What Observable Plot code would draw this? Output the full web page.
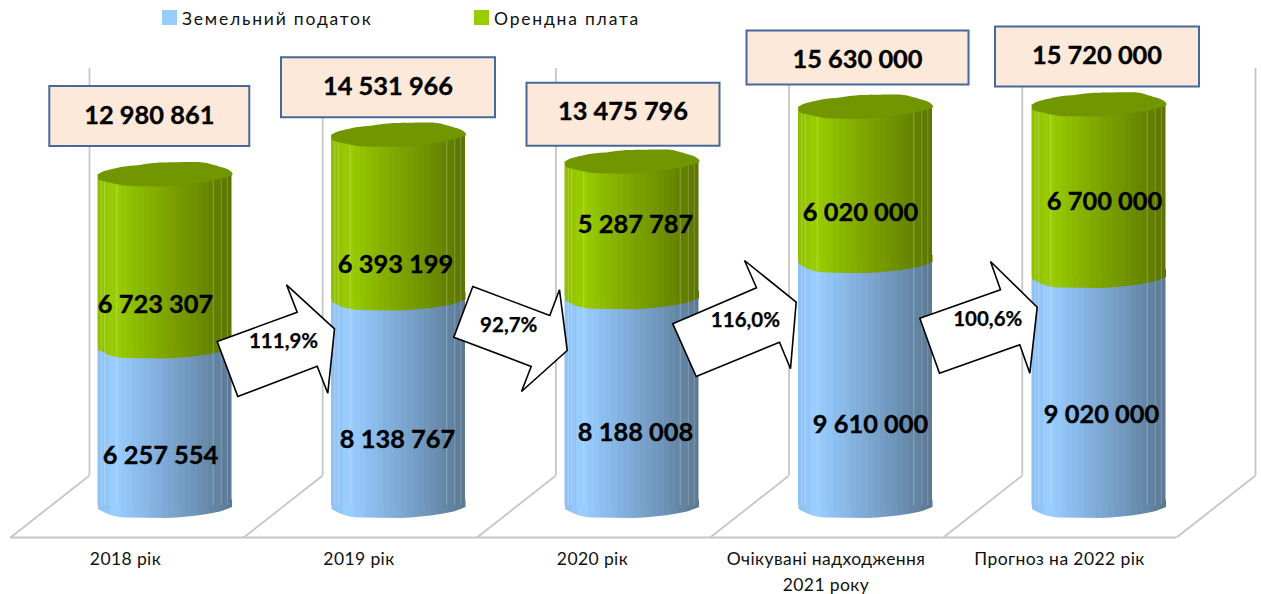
<!DOCTYPE html>
<html lang="uk">
<head>
<meta charset="utf-8">
<script src="https://cdn.jsdelivr.net/npm/d3@7"></script>
<script src="https://cdn.jsdelivr.net/npm/@observablehq/plot@0.6"></script>
<style>
  html, body { margin: 0; background: #fff; }
  #wrap { position: relative; width: 1261px; height: 594px; overflow: hidden; }
  .legend { position: absolute; top: 8px; left: 0; font: 17.5px Lato, sans-serif; color: #111; letter-spacing: 1.8px; white-space: pre; }
  .legend i { position: absolute; top: 2px; width: 15px; height: 15px; }
  .legend span { position: absolute; top: 0; }
  .cat text { letter-spacing: 0.4px; }
</style>
</head>
<body>
<div id="wrap"></div>
<script>
// ---- chart data ----
const categories = ["2018 рік", "2019 рік", "2020 рік", "Очікувані надходження\n2021 року", "Прогноз на 2022 рік"];
const landTax = [6257554, 8138767, 8188008, 9610000, 9020000];
const rent = [6723307, 6393199, 5287787, 6020000, 6700000];
const totals = [12980861, 14531966, 13475796, 15630000, 15720000];
const growth = ["111,9%", "92,7%", "116,0%", "100,6%"];
const seriesNames = ["Земельний податок", "Орендна плата"];

// ---- layout (pixel offsets of annotations) ----
const W = 1261, H = 594;
const halfBar = 67 / 233.5;
const blueOffset = [[-4.5, 30], [-1, 38], [3.5, 32], [5, 42], [2.5, 24]];
const greenOffset = [[-9.5, 45], [-3, 48], [3.5, -4], [-5, 29], [5.5, 12]];
const boxOffset = [[-15.7, -58.5, 200, 60, 0], [-10.5, -47.7, 214, 60, -0.7], [-9, -47.7, 193, 63, -2.7], [-8, -49.4, 222, 54, 2], [-2, -48.1, 204, 60, -1]];
const arrowLabel = [[1.8, -164], [-6.5, -180], [-3.3, -185], [5.5, -186]];
const arrowShapes = [
  [[216.7,341],[296.7,311.7],[286,284.3],[334,328.3],[327.3,392.7],[316.7,365.7],[237.3,396]],
  [[472.3,286],[549.3,315],[559,289.3],[566.7,350],[521,391],[530.7,366],[453.3,336.7]],
  [[672.3,323.3],[756,287.3],[744,260],[795.7,301.7],[790,368.3],[779,341.7],[695.7,376]],
  [[919.3,317.7],[1000,289.3],[990,261],[1036.7,306.7],[1029.3,372.7],[1019.3,344.3],[939,372.7]]
];
const capOutline = [[-67,2.5],[-66.5,-0.5],[-62,-3],[-55,-5],[-41,-8],[-27.7,-9.3],[-7.7,-11.7],[35.7,-12.3],[49,-9.5],[62,-5.5],[67,-2],[66.5,1],[52.3,5],[35.7,8.2],[5.7,11.7],[-24.3,11.7],[-41,11],[-64.3,6]];
const lipOutline = [[-67,3.5],[-54.5,9.5],[-39.5,12],[2,12.5],[22,11],[42,8.5],[58,5],[67,1.5]];
const wallTop = 17137000, wallBase = 1176000, floorFront = -1255000;
const wallDx = -75.5 / 233.5, cornerDx = -154.5 / 233.5, wallStep = 233.2 / 233.5;
const facetLines = [-0.95, -0.9, -0.72, 0.72, 0.84, 0.93];

const rows = categories.map((c, i) => ({i, c, land: landTax[i], rent: rent[i], total: totals[i]}));
const wallX = d3.range(6).map(i => i * wallStep + wallDx);

function polygon(points, ox = 0, oy = 0) {
  return {draw(ctx) {
    points.forEach(([x, y], k) => k ? ctx.lineTo(x - ox, y - oy) : ctx.moveTo(x - ox, y - oy));
    ctx.closePath();
  }};
}
const capSymbol = {draw(ctx) { d3.line().curve(d3.curveCardinalClosed.tension(0.3)).context(ctx)(capOutline); }};
const lipSymbol = {draw(ctx) {
  d3.line().curve(d3.curveMonotoneX).context(ctx)(lipOutline);
  ctx.lineTo(67, -6); ctx.lineTo(-67, -6); ctx.closePath();
}};
function rectSymbol(w, h) {
  return polygon([[-w / 2, -h / 2], [w / 2, -h / 2], [w / 2, h / 2], [-w / 2, h / 2]]);
}

function stops(colors) {
  return colors.map((c, k) => {
    const a = k / colors.length * 100, b = (k + 1) / colors.length * 100;
    return `<stop offset="${a}%" stop-color="${c}"/><stop offset="${b}%" stop-color="${c}"/>`;
  }).join("");
}
const blues = ["#90c2f3","#93c6f8","#99ccff","#99ccff","#95c7f9","#91c3f5","#8dbef0","#8abbea","#87b7e5","#84b2e0","#81aeda","#7eaad5","#7ba6d0","#78a2ca","#759dc5","#7299bf","#6f95b9","#6c90b3","#698cad","#6587a7","#6283a1","#5f7e9a","#5c7a95"];
const greens = ["#90c000","#95c600","#99cc00","#99cc00","#95c700","#91c200","#8dbd00","#8ab800","#87b300","#84ae00","#81aa00","#7ea600","#7ba100","#789d00","#759900","#729500","#6f9000","#6c8c00","#698700","#668300","#637f00","#607a00","#5c7600"];

const defs = () => {
  const ns = "http://www.w3.org/2000/svg";
  const d = document.createElementNS(ns, "defs");
  d.innerHTML =
    `<linearGradient id="gBlue" x1="0" x2="1" y1="0" y2="0">${stops(blues)}</linearGradient>` +
    `<linearGradient id="gGreen" x1="0" x2="1" y1="0" y2="0">${stops(greens)}</linearGradient>`;
  return d;
};
function fmt(v) { return d3.format(",")(v).replace(/,/g, " "); }

const big = {fontFamily: "Lato, sans-serif", fontWeight: 700, fontSize: 25.4, fill: "#000", stroke: "#000", strokeWidth: 0.35};
const wallStyle = {stroke: "#c6c6c6", strokeWidth: 1.8};
const facets = rows.flatMap(d => facetLines.map(p => ({x: d.i + p * halfBar, total: d.total})));

const chart = Plot.plot({
  width: W, height: H,
  marginTop: 0, marginRight: 0, marginBottom: 0, marginLeft: 0,
  style: {background: "transparent", overflow: "visible"},
  x: {type: "linear", domain: [0, 4], range: [164.5, 1098.5], axis: null},
  y: {type: "linear", domain: [0, 16000000], range: [505, 97], axis: null},
  marks: [
    defs,
    // back walls and floor
    Plot.ruleX(wallX, {x: d => d, y1: wallTop, y2: wallBase, ...wallStyle}),
    Plot.link(wallX, {x1: d => d, y1: wallBase, x2: d => d - wallDx + cornerDx, y2: floorFront, ...wallStyle}),
    Plot.ruleY([floorFront], {y: d => d, x1: cornerDx, x2: 5 * wallStep + cornerDx, ...wallStyle}),
    // cylinders
    Plot.dot(rows, {x: "i", y: 0, symbol: lipSymbol, fill: "url(#gBlue)", stroke: "none"}),
    Plot.rect(rows, {x1: d => d.i - halfBar, x2: d => d.i + halfBar, y1: 0, y2: "land", fill: "url(#gBlue)"}),
    Plot.dot(rows, {x: "i", y: "land", symbol: lipSymbol, fill: "url(#gGreen)", stroke: "none"}),
    Plot.rect(rows, {x1: d => d.i - halfBar, x2: d => d.i + halfBar, y1: "land", y2: "total", fill: "url(#gGreen)"}),
    Plot.ruleX(facets, {x: "x", y1: 0, y2: "total", stroke: "#fff", strokeOpacity: 0.28, strokeWidth: 0.9}),
    Plot.dot(rows, {x: "i", y: "total", symbol: capSymbol, fill: "#729600", stroke: "none"}),
    // segment value labels
    ...rows.map(d => Plot.text([d], {x: "i", y: r => r.land / 2, text: r => fmt(r.land), dx: blueOffset[d.i][0], dy: blueOffset[d.i][1], ...big})),
    ...rows.map(d => Plot.text([d], {x: "i", y: r => r.land + r.rent / 2, text: r => fmt(r.rent), dx: greenOffset[d.i][0], dy: greenOffset[d.i][1], ...big})),
    // growth arrows
    ...growth.map((g, i) => {
      const ox = 164.5 + 233.5 * (i + 0.5), oy = 505;
      return Plot.dot([i + 0.5], {x: d => d, y: 0, symbol: polygon(arrowShapes[i], ox, oy), fill: "#fff", stroke: "#000", strokeWidth: 1.6});
    }),
    ...growth.map((g, i) => Plot.text([g], {x: i + 0.5, y: 0, text: d => d, dx: arrowLabel[i][0], dy: arrowLabel[i][1], fontFamily: "Lato, sans-serif", fontWeight: 700, fontSize: 20.5, fill: "#000", stroke: "#000", strokeWidth: 0.25})),
    // total callouts
    ...rows.map(d => {
      const [dx, dy, w, h] = boxOffset[d.i];
      return Plot.dot([d], {x: "i", y: "total", dx, dy, symbol: rectSymbol(w, h), fill: "#fde9d9", stroke: "#46699a", strokeWidth: 2});
    }),
    ...rows.map(d => {
      const [dx, dy, , , t] = boxOffset[d.i];
      return Plot.text([d], {x: "i", y: "total", text: r => fmt(r.total), dx, dy: dy + t, ...big});
    }),
    // category labels
    Plot.text(rows, {x: "i", y: 0, text: "c", dx: -39.5, dy: 41, lineAnchor: "top", lineHeight: 1.49, fontFamily: "Lato, sans-serif", fontSize: 17.5, fill: "#111", className: "cat"})
  ]
});

const wrap = document.getElementById("wrap");
wrap.appendChild(chart);

// legend
const legend = document.createElement("div");
legend.className = "legend";
legend.innerHTML =
  `<i style="left:162px;background:#99ccff"></i><span style="left:182px">${seriesNames[0]}</span>` +
  `<i style="left:474px;background:#99cc00"></i><span style="left:494px">${seriesNames[1]}</span>`;
wrap.appendChild(legend);
</script>
</body>
</html>
